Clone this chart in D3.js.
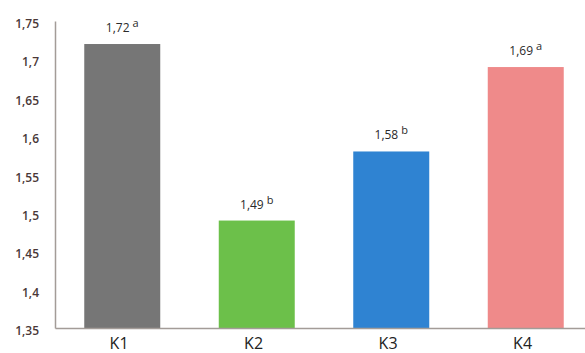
<!DOCTYPE html>
<html>
<head>
<meta charset="utf-8">
<script src="https://cdn.jsdelivr.net/npm/d3@7"></script>
<style>
  body { margin: 0; background: #fff; }
</style>
</head>
<body>
<div id="chart"></div>
<script>
// data
const categories = ["K1", "K2", "K3", "K4"];
const values = [1.72, 1.49, 1.58, 1.69];
const letters = ["a", "b", "b", "a"];
const colors = ["#767676", "#6cc04a", "#2f83d2", "#ef8a8a"];
const yTicks = [1.35, 1.4, 1.45, 1.5, 1.55, 1.6, 1.65, 1.7, 1.75];

const width = 585;
const height = 353;
const margin = ({top: 21, right: -8, bottom: 25, left: 55});

const locale = d3.formatLocale({decimal: ",", thousands: ".", grouping: [3], currency: ["", ""]});
const fmt = locale.format(".2~f");

const svg = d3.create("svg")
    .attr("width", width)
    .attr("height", height);

const xScale = d3.scaleBand()
    .domain(categories)
    .range([margin.left, width - margin.right])
    .paddingInner(0.435)
    .paddingOuter(0.2175);

const yScale = d3.scaleLinear()
    .domain([1.35, 1.75])
    .range([height - margin.bottom, margin.top]);

// bars
svg.selectAll(".bar")
    .data(categories)
    .enter().append("rect")
    .attr("class", "bar")
    .attr("x", d => xScale(d))
    .attr("y", (d, i) => yScale(values[i]))
    .attr("width", xScale.bandwidth())
    .attr("height", (d, i) => yScale(1.35) - yScale(values[i]))
    .attr("fill", (d, i) => colors[i]);

// y axis
const yAxis = svg.append("g")
    .attr("transform", `translate(${margin.left},0)`)
    .call(d3.axisLeft(yScale).tickValues(yTicks).tickFormat(fmt).tickSize(0).tickPadding(16));
yAxis.select(".domain").attr("stroke", "#a39c98").attr("stroke-width", 1.5);
yAxis.selectAll("text")
    .attr("font-family", "Open Sans, Arial")
    .attr("font-size", 12)
    .attr("font-weight", 600)
    .attr("fill", "#4a3838")
    .attr("dy", "0.55em");

// x axis
const xAxis = svg.append("g")
    .attr("transform", `translate(0,${height - margin.bottom})`)
    .call(d3.axisBottom(xScale).tickSize(0).tickPadding(10));
xAxis.select(".domain").attr("stroke", "#a39c98").attr("stroke-width", 1.5);
xAxis.selectAll("text")
    .attr("font-family", "Open Sans, Arial")
    .attr("font-size", 16)
    .attr("fill", "#222")
    .attr("dx", "-0.2em");

// value labels
const labels = svg.selectAll(".val")
    .data(categories)
    .enter().append("text")
    .attr("class", "val")
    .attr("x", d => xScale(d) + xScale.bandwidth() / 2)
    .attr("y", (d, i) => yScale(values[i]) - 12)
    .attr("text-anchor", "middle")
    .attr("font-family", "Open Sans, Arial")
    .attr("font-size", 12)
    .attr("fill", "#2a2a2a");
labels.append("tspan").text((d, i) => fmt(values[i]));
labels.append("tspan")
    .attr("dx", 3)
    .attr("dy", -5)
    .attr("font-size", 11)
    .text((d, i) => letters[i]);

document.getElementById("chart").appendChild(svg.node());
</script>
</body>
</html>
